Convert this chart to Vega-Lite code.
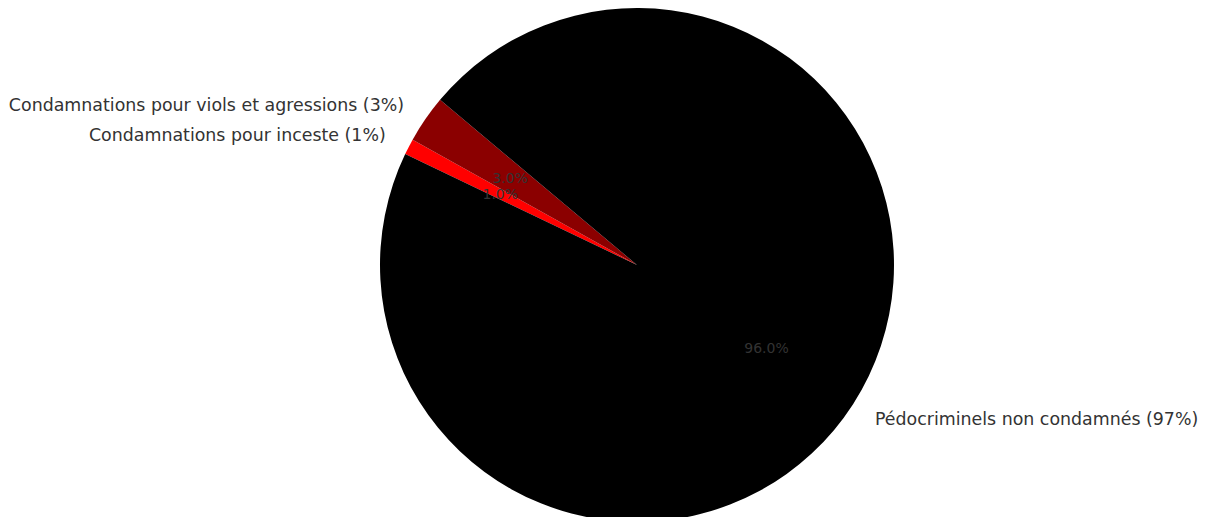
{
  "$schema": "https://vega.github.io/schema/vega-lite/v6.json",
  "autosize": {"type": "none"},
  "width": 1138,
  "height": 504,
  "padding": {"left": 68, "top": 13, "right": 0, "bottom": 0},
  "background": "white",
  "config": {"view": {"stroke": null}},
  "data": {
    "values": [
      {"category": "Condamnations pour inceste", "label": "Condamnations pour inceste (1%)", "share": 1, "pct": "1.0%", "order": 1, "side": "right"},
      {"category": "Condamnations pour viols et agressions", "label": "Condamnations pour viols et agressions (3%)", "share": 3, "pct": "3.0%", "order": 2, "side": "right"},
      {"category": "Pédocriminels non condamnés", "label": "Pédocriminels non condamnés (97%)", "share": 96, "pct": "96.0%", "order": 3, "side": "left"}
    ]
  },
  "encoding": {
    "theta": {"field": "share", "type": "quantitative", "stack": true, "scale": {"range": [5.159, 11.442]}},
    "order": {"field": "order", "type": "quantitative"}
  },
  "layer": [
    {
      "mark": {"type": "arc", "outerRadius": 257, "innerRadius": 0},
      "encoding": {
        "color": {
          "field": "category",
          "type": "nominal",
          "scale": {
            "domain": ["Pédocriminels non condamnés", "Condamnations pour viols et agressions", "Condamnations pour inceste"],
            "range": ["#000000", "#8b0000", "#ff0000"]
          },
          "legend": null
        }
      }
    },
    {
      "mark": {"type": "text", "radius": 154, "font": "DejaVu Sans", "fontSize": 14, "color": "#333333", "align": "center", "baseline": "middle", "dy": 1},
      "encoding": {"text": {"field": "pct"}}
    },
    {
      "mark": {"type": "text", "radius": 283, "font": "DejaVu Sans", "fontSize": 17.4, "color": "#333333", "baseline": "middle", "dy": 1.5, "align": {"expr": "datum.side"}},
      "encoding": {"text": {"field": "label"}}
    }
  ]
}
